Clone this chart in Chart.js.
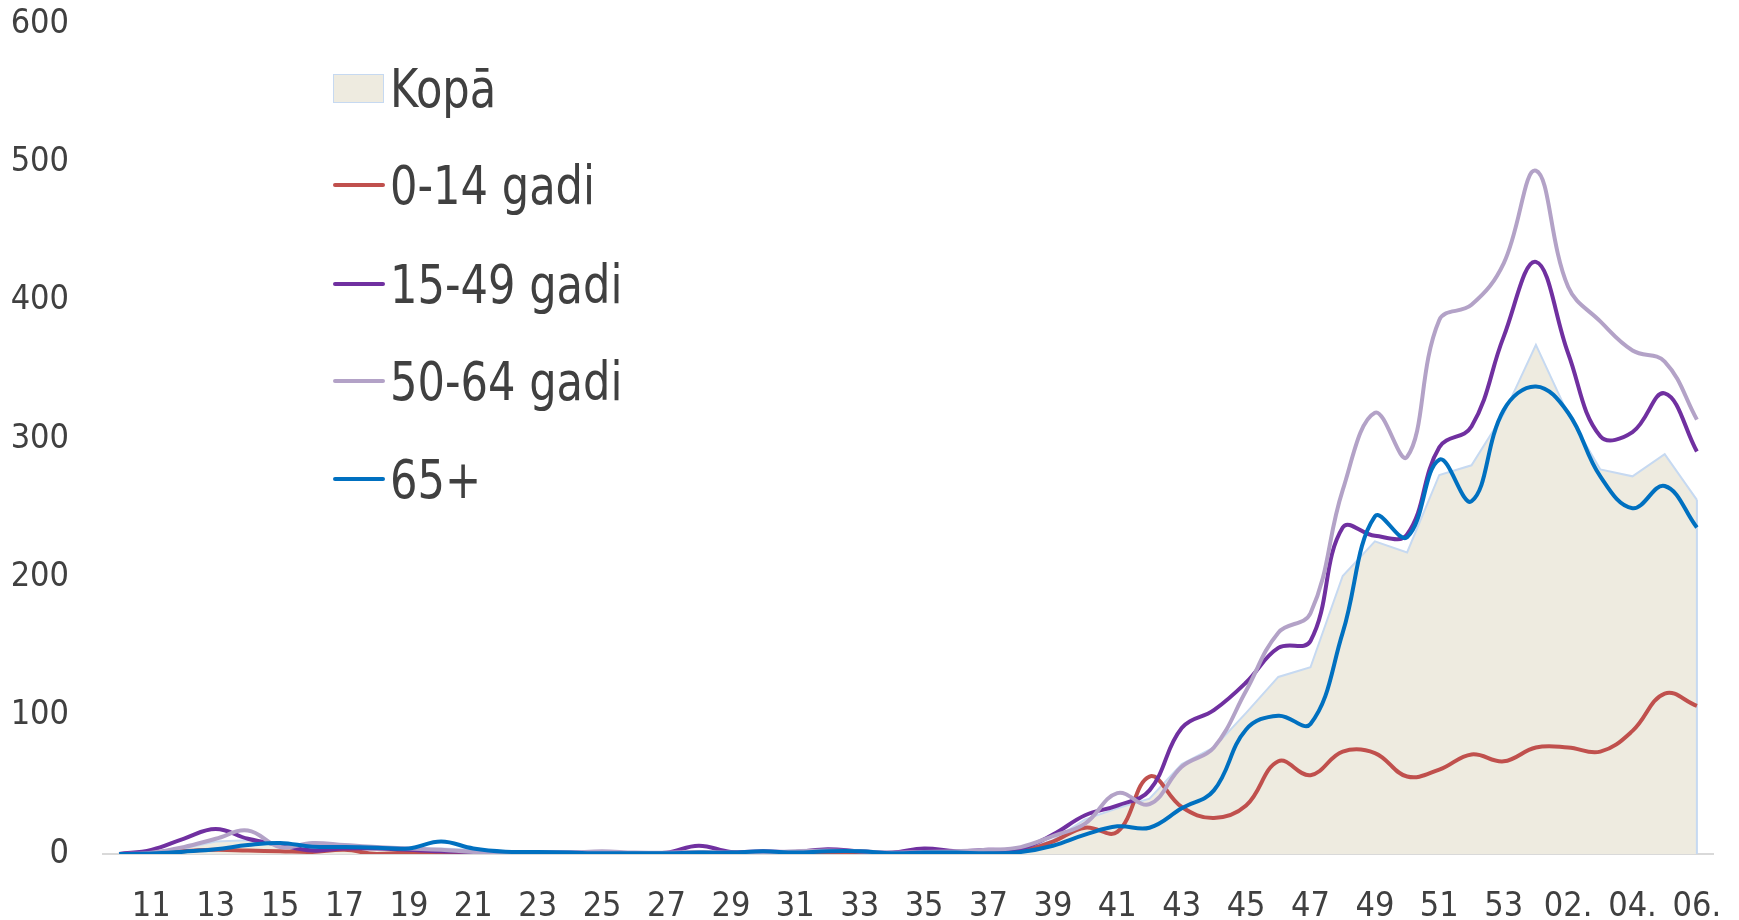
<!DOCTYPE html>
<html lang="lv">
<head>
  <meta charset="UTF-8" />
  <title>Kopā un pa vecuma grupām</title>
  <script src="https://cdn.jsdelivr.net/npm/chart.js"></script>
  <style>
    body { margin: 0; background: #fff; }
    #wrap { position: relative; width: 1739px; height: 920px; }
    #legend { position: absolute; left: 333px; top: 0; font-family: 'Liberation Sans Narrow', 'DejaVu Sans Condensed', 'Roboto Condensed', 'Open Sans', sans-serif; font-size: 48px; color: #404040; }
    .item { position: absolute; left: 0; height: 60px; display: flex; align-items: center; white-space: nowrap; }
    .item .txt { display: inline-block; transform: scaleY(1.1); transform-origin: left center; }
    .item span.mk { display: inline-block; width: 52px; height: 3.5px; margin-right: 5px; border-radius: 2px; }
    .item span.box { display: inline-block; width: 49px; height: 27px; margin-right: 6px; background: #eeebe0; border: 1px solid #c6d9f1; }
  </style>
</head>
<body>
  <div id="wrap">
    <canvas id="chart" width="1739" height="920"></canvas>
    <div id="legend">
      <div class="item" style="top:58px"><span class="box"></span><span class="txt">Kopā</span></div>
      <div class="item" style="top:155px"><span class="mk" style="background:#c0504d"></span><span class="txt">0-14 gadi</span></div>
      <div class="item" style="top:254px"><span class="mk" style="background:#7030a0"></span><span class="txt">15-49 gadi</span></div>
      <div class="item" style="top:351px"><span class="mk" style="background:#b3a2c7"></span><span class="txt">50-64 gadi</span></div>
      <div class="item" style="top:449px"><span class="mk" style="background:#0070c0"></span><span class="txt">65+</span></div>
    </div>
  </div>

  <script>
    // weeks 10..53, then 01.-06. of next year
    const weeks = ['10','11','12','13','14','15','16','17','18','19','20','21','22','23','24','25','26','27','28','29',
      '30','31','32','33','34','35','36','37','38','39','40','41','42','43','44','45','46','47','48','49',
      '50','51','52','53','01.','02.','03.','04.','05.','06.'];

    const kopa = [0, 1, 4, 9, 10, 8, 6, 5, 4, 4, 4, 3, 1, 1, 1, 1, 1, 1, 2, 1,
      1, 1, 2, 1, 1, 2, 1, 2, 3, 10, 25, 33, 40, 65, 77, 102, 128, 135, 201, 226,
      218, 274, 281, 318, 368, 318, 278, 273, 289, 256];

    const age0_14 = [0, 0.5, 2, 3, 2.5, 2, 1.5, 3, 0, 1, 0.5, 0.5, 0, 0, 0, 0, 0, 0, 1, 0,
      0.5, 0.5, 1, 1, 0.5, 0.5, 0.5, 1, 2, 9, 19, 16, 56, 34, 26, 35, 67, 57, 74, 73,
      56, 61, 72, 67, 77, 77, 74, 89, 116, 107];

    const age15_49 = [0, 3, 11, 18, 11, 6.5, 2.5, 4, 4, 3, 2, 1.5, 1, 1, 1, 1, 0.5, 1, 6, 1.5,
      2, 1.5, 3.5, 2, 1, 4, 2, 3, 4, 14, 28, 35, 46, 91, 104, 124, 149, 154, 236, 230,
      231, 294, 309, 374, 428, 362, 302, 305, 333, 291];

    const age50_64 = [0, 1, 5, 11, 17, 5, 8, 6.5, 5, 4, 3, 1.5, 1, 1, 1, 2, 1, 1, 1.5, 1,
      1, 2, 2.5, 2, 1, 1.5, 2, 3, 5, 13, 22, 44, 36, 63, 77, 118, 160, 174, 263, 319,
      287, 386, 397, 427, 494, 410, 385, 364, 356, 314];

    const age65 = [0, 0.3, 1.7, 3.4, 6.5, 8, 5.3, 5, 4.6, 4, 9, 4, 1.7, 1.5, 1, 0.5, 0.5, 0.5, 1, 1,
      2, 1, 2, 2, 0.5, 1, 1, 0.5, 1.5, 6, 14, 20, 19, 33, 46, 90, 100, 94, 160, 244,
      229, 285, 255, 321, 338, 319, 273, 250, 266, 236];

    const yTicks = [0, 100, 200, 300, 400, 500, 600];

    const font = "'Liberation Sans Narrow', 'DejaVu Sans Condensed', 'Roboto Condensed', 'Open Sans', sans-serif";

    function lineSet(label, data, color, order) {
      return {
        label: label, data: data, borderColor: color, borderWidth: 4,
        pointRadius: 0, tension: 0.4, fill: false, order: order
      };
    }

    // right-hand vertical edge of the Kopā area
    const areaEdge = {
      id: 'areaEdge',
      afterDatasetDraw(chart, args) {
        if (args.index !== 0) return;
        const pts = args.meta.data;
        const last = pts[pts.length - 1];
        const ctx = chart.ctx;
        ctx.save();
        ctx.strokeStyle = '#c6d9f1';
        ctx.lineWidth = 2;
        ctx.beginPath();
        ctx.moveTo(last.x, last.y);
        ctx.lineTo(last.x, chart.chartArea.bottom);
        ctx.stroke();
        ctx.restore();
      }
    };

    // invisible tick marks keep the labels away from the axis without tick padding
    const hiddenTicks = len => ({ display: true, drawOnChartArea: false, drawTicks: true, tickLength: len, color: 'rgba(0,0,0,0)' });

    new Chart(document.getElementById('chart'), {
      type: 'line',
      data: {
        labels: weeks,
        datasets: [
          {
            label: 'Kopā', data: kopa, borderColor: '#c6d9f1', borderWidth: 2,
            backgroundColor: '#eeebe0', fill: 'origin', tension: 0, pointRadius: 0, order: 5
          },
          lineSet('0-14 gadi', age0_14, '#c0504d', 4),
          lineSet('15-49 gadi', age15_49, '#7030a0', 3),
          lineSet('50-64 gadi', age50_64, '#b3a2c7', 2),
          lineSet('65+', age65, '#0070c0', 1)
        ]
      },
      options: {
        responsive: false,
        animation: false,
        layout: { padding: { top: 24, right: 26, left: 0, bottom: 0 } },
        plugins: { legend: { display: false }, tooltip: { enabled: false } },
        scales: {
          x: {
            offset: true,
            grid: hiddenTicks(33),
            border: { display: true, color: '#d9d9d9', width: 2 },
            ticks: {
              autoSkip: false, maxRotation: 0, padding: 0,
              color: '#404040', font: { family: font, size: 34 },
              callback: (v, i) => (i % 2 === 1 ? weeks[i] : '')
            },
            afterFit: s => { s.height = 66; }
          },
          y: {
            min: 0, max: 600,
            grid: hiddenTicks(34),
            border: { display: false },
            afterBuildTicks: s => { s.ticks = yTicks.map(v => ({ value: v })); },
            ticks: { padding: 0, color: '#404040', font: { family: font, size: 34 } },
            afterFit: s => { s.width = 103; }
          }
        }
      },
      plugins: [areaEdge]
    });
  </script>
</body>
</html>
